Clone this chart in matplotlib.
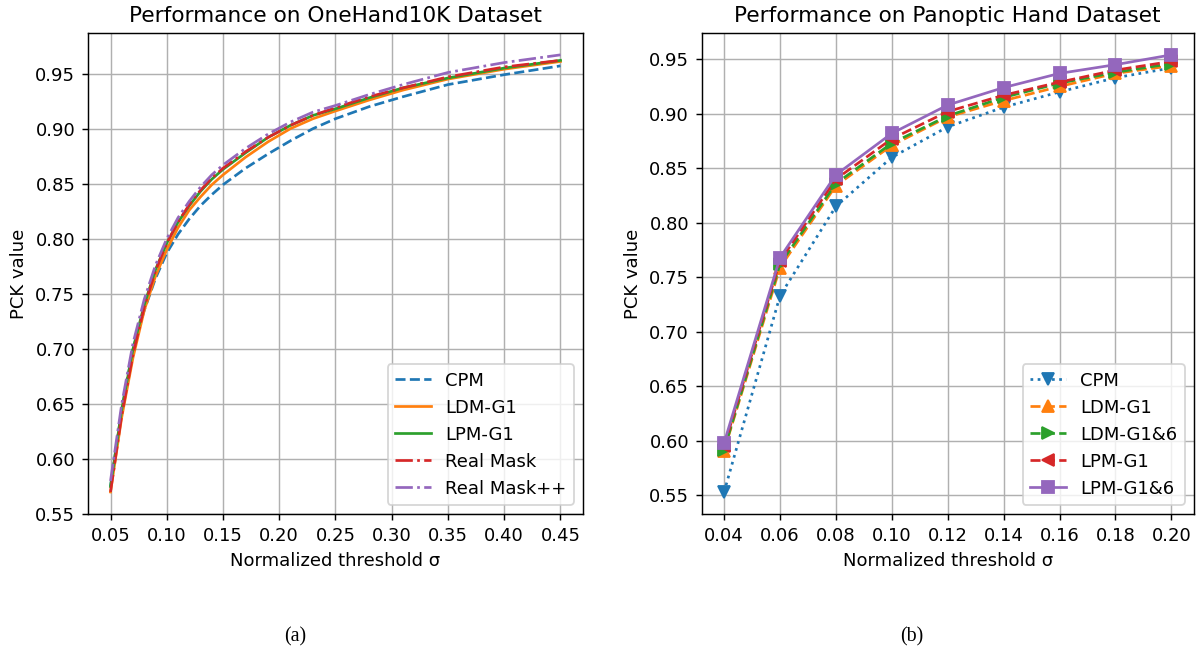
import matplotlib
matplotlib.use("Agg")
import matplotlib.pyplot as plt

# ---------------- Left: OneHand10K ----------------
x_left = [0.05, 0.06, 0.07, 0.08, 0.09, 0.10, 0.11, 0.12, 0.13, 0.14, 0.15,
          0.17, 0.19, 0.21, 0.23, 0.25, 0.28, 0.31, 0.35, 0.40, 0.45]
cpm_left = [0.575, 0.645, 0.700, 0.735, 0.764, 0.787, 0.804, 0.818, 0.830, 0.840, 0.849,
            0.864, 0.877, 0.889, 0.900, 0.909, 0.920, 0.929, 0.940, 0.949, 0.957]
ldm_g1_left = [0.570, 0.638, 0.692, 0.735, 0.766, 0.790, 0.810, 0.826, 0.838, 0.849, 0.858,
               0.874, 0.888, 0.900, 0.909, 0.916, 0.926, 0.935, 0.945, 0.954, 0.961]
lpm_g1_left = [0.575, 0.645, 0.700, 0.740, 0.772, 0.796, 0.815, 0.830, 0.843, 0.854, 0.863,
               0.878, 0.892, 0.903, 0.912, 0.918, 0.928, 0.937, 0.946, 0.955, 0.962]
real_mask_left = [0.570, 0.640, 0.695, 0.738, 0.771, 0.796, 0.815, 0.831, 0.844, 0.855, 0.864,
                  0.879, 0.892, 0.903, 0.912, 0.919, 0.929, 0.937, 0.947, 0.956, 0.962]
real_mask_pp_left = [0.580, 0.650, 0.705, 0.745, 0.776, 0.800, 0.819, 0.834, 0.847, 0.858, 0.867,
                     0.882, 0.895, 0.906, 0.915, 0.921, 0.931, 0.940, 0.951, 0.960, 0.967]
xticks_left = [0.05, 0.10, 0.15, 0.20, 0.25, 0.30, 0.35, 0.40, 0.45]
yticks_left = [0.55, 0.60, 0.65, 0.70, 0.75, 0.80, 0.85, 0.90, 0.95]

# ---------------- Right: Panoptic Hand ----------------
x_right = [0.04, 0.06, 0.08, 0.10, 0.12, 0.14, 0.16, 0.18, 0.20]
cpm_right = [0.553, 0.733, 0.815, 0.860, 0.888, 0.906, 0.920, 0.933, 0.942]
ldm_g1_right = [0.591, 0.759, 0.834, 0.871, 0.897, 0.912, 0.925, 0.937, 0.944]
ldm_g16_right = [0.592, 0.762, 0.836, 0.873, 0.898, 0.915, 0.928, 0.938, 0.946]
lpm_g1_right = [0.595, 0.765, 0.840, 0.877, 0.902, 0.917, 0.929, 0.940, 0.948]
lpm_g16_right = [0.598, 0.768, 0.844, 0.882, 0.908, 0.924, 0.937, 0.945, 0.954]
xticks_right = [0.04, 0.06, 0.08, 0.10, 0.12, 0.14, 0.16, 0.18, 0.20]
yticks_right = [0.55, 0.60, 0.65, 0.70, 0.75, 0.80, 0.85, 0.90, 0.95]

DPI = 130
fig = plt.figure(figsize=(1197 / DPI, 652 / DPI), dpi=DPI)

axL = fig.add_axes([88 / 1197, 1 - 514 / 652, 495 / 1197, 481 / 652])
axL.plot(x_left, cpm_left, '--', color='C0', label='CPM')
axL.plot(x_left, ldm_g1_left, '-', color='C1', label='LDM-G1')
axL.plot(x_left, lpm_g1_left, '-', color='C2', label='LPM-G1')
axL.plot(x_left, real_mask_left, '-.', color='C3', label='Real Mask')
axL.plot(x_left, real_mask_pp_left, '-.', color='C4', label='Real Mask++')
axL.set_xticks(xticks_left)
axL.set_yticks(yticks_left)
axL.set_xticklabels([f"{v:.2f}" for v in xticks_left])
axL.set_yticklabels([f"{v:.2f}" for v in yticks_left])
axL.grid(True)
axL.set_title('Performance on OneHand10K Dataset')
axL.set_xlabel('Normalized threshold σ')
axL.set_ylabel('PCK value')
axL.legend(loc='lower right')

axR = fig.add_axes([701.7 / 1197, 1 - 514 / 652, 492 / 1197, 481 / 652])
axR.plot(x_right, cpm_right, ':', marker='v', markersize=7, color='C0', label='CPM')
axR.plot(x_right, ldm_g1_right, '--', marker='^', markersize=7, color='C1', label='LDM-G1')
axR.plot(x_right, ldm_g16_right, '--', marker='>', markersize=7, color='C2', label='LDM-G1&6')
axR.plot(x_right, lpm_g1_right, '--', marker='<', markersize=7, color='C3', label='LPM-G1')
axR.plot(x_right, lpm_g16_right, '-', marker='s', markersize=7, color='C4', label='LPM-G1&6')
axR.set_xticks(xticks_right)
axR.set_yticks(yticks_right)
axR.set_xticklabels([f"{v:.2f}" for v in xticks_right])
axR.set_yticklabels([f"{v:.2f}" for v in yticks_right])
axR.grid(True)
axR.set_title('Performance on Panoptic Hand Dataset')
axR.set_xlabel('Normalized threshold σ')
axR.set_ylabel('PCK value')
axR.legend(loc='lower right')

fig.text(295 / 1197, 1 - 637 / 652, '(a)', ha='center', va='center',
         fontsize=11, family='Liberation Serif')
fig.text(912 / 1197, 1 - 637 / 652, '(b)', ha='center', va='center',
         fontsize=11, family='Liberation Serif')

fig.savefig('out.png', dpi=DPI)
